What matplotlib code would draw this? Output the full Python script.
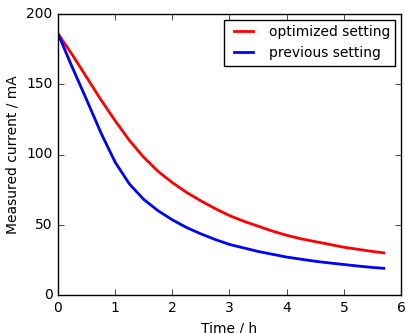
import matplotlib
matplotlib.use('Agg')
import matplotlib.pyplot as plt

time_h = [0, 0.25, 0.5, 0.75, 1, 1.25, 1.5, 1.75, 2, 2.25, 2.5, 2.75, 3,
          3.25, 3.5, 3.75, 4, 4.25, 4.5, 4.75, 5, 5.25, 5.5, 5.7]
optimized = [186, 171, 155, 139, 124, 110, 98, 88, 80, 73, 67, 61.5, 56.5,
             52.5, 49, 45.5, 42.5, 40, 38, 36, 34, 32.5, 31, 30]
previous = [186, 162, 139, 115.5, 94.5, 79, 68, 60, 53.5, 48, 43.5, 39.5, 36,
            33.5, 31, 29, 27, 25.5, 24, 22.8, 21.7, 20.6, 19.6, 19]

plt.style.use('classic')
plt.rcParams['font.size'] = 10

fig = plt.figure(figsize=(4.06, 3.33), dpi=100, facecolor='white')
ax = fig.add_axes([58/406, 38/333, 343/406, 281/333])
ax.plot(time_h, optimized, color='red', lw=2, label='optimized setting')
ax.plot(time_h, previous, color='blue', lw=2, label='previous setting')
ax.set_xlim(0, 6)
ax.set_ylim(0, 200)
ax.set_xticks(range(0, 7))
ax.set_yticks(range(0, 201, 50))
ax.set_xlabel('Time / h')
ax.set_ylabel('Measured current / mA')
ax.legend(loc='upper right', fontsize=10, borderaxespad=0.4)
fig.savefig('out.png', dpi=100, facecolor='white')
